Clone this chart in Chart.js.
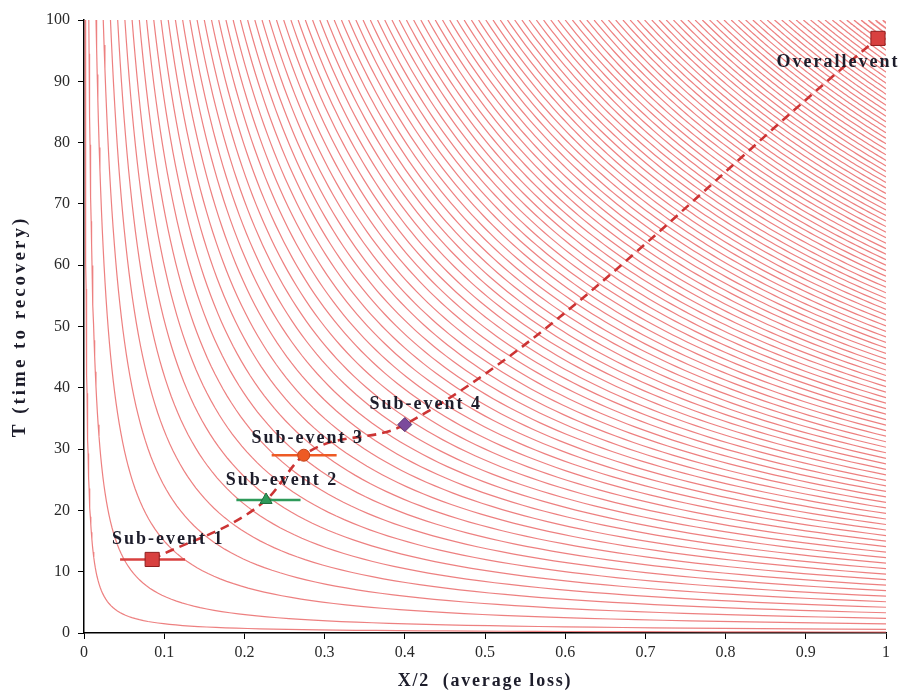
<!DOCTYPE html>
<html>
<head>
<meta charset="utf-8">
<script src="https://cdn.jsdelivr.net/npm/chart.js@4.4.1/dist/chart.umd.min.js"></script>
<style>
html, body { margin: 0; padding: 0; background: #fff; }
#wrap { width: 898px; height: 692px; }
</style>
</head>
<body>
<div id="wrap"><canvas id="chart"></canvas></div>
<script>
'use strict';

// iso-lines of (X/2)*T, each given by its value read at X/2 = 1
var isoLevels = [0.15, 0.6,
    1.5, 2.4, 3.3, 4.2, 5.1, 6.0, 6.9, 7.8, 8.7, 9.6,
    10.5, 11.4, 12.3, 13.2, 14.1, 15.0, 15.9, 16.8, 17.7, 18.6,
    19.5, 20.4, 21.3, 22.2, 23.1, 24.0, 24.9, 25.8, 26.7, 27.6,
    28.5, 29.4, 30.3, 31.2, 32.1, 33.0, 33.9, 34.8, 35.7, 36.6,
    37.5, 38.4, 39.3, 40.2, 41.1, 42.0, 42.9, 43.8, 44.7, 45.6,
    46.5, 47.4, 48.3, 49.2, 50.1, 51.0, 51.9, 52.8, 53.7, 54.6,
    55.5, 56.4, 57.3, 58.2, 59.1, 60.0, 60.9, 61.8, 62.7, 63.6,
    64.5, 65.4, 66.3, 67.2, 68.1, 69.0, 69.9, 70.8, 71.7, 72.6,
    73.5, 74.4, 75.3, 76.2, 77.1, 78.0, 78.9, 79.8, 80.7, 81.6,
    82.5, 83.4, 84.3, 85.2, 86.1, 87.0, 87.9, 88.8, 89.7, 90.6,
    91.5, 92.4, 93.3, 94.2, 95.1, 96.0, 96.9, 97.8, 98.7, 99.6];

var eventNames = ['Sub-event 1', 'Sub-event 2', 'Sub-event 3', 'Sub-event 4', 'Overallevent'];
var eventLoss = [0.085, 0.227, 0.274, 0.40, 0.99];
var eventTime = [12, 21.7, 29, 34, 97];
var lossLow = [0.045, 0.19, 0.234, null, null];
var lossHigh = [0.126, 0.27, 0.315, null, null];

var xTicks = [0, 0.1, 0.2, 0.3, 0.4, 0.5, 0.6, 0.7, 0.8, 0.9, 1];
var yTicks = [0, 10, 20, 30, 40, 50, 60, 70, 80, 90, 100];

var xTitle = 'X/2  (average loss)';
var yTitle = 'T (time to recovery)';

var eventColors = ['#d8403f', '#2e9a5a', '#ee5a24', '#7b4a9c', '#d8403f'];
var eventBorders = ['#8e1f1f', '#1f6e3e', '#c2431a', '#55306e', '#8e1f1f'];
var eventStyles = ['rect', 'triangle', 'circle', 'rectRot', 'rect'];
var eventRadius = [10, 7, 6, 7, 10];
var labelOffsets = [[16, -20], [16, -20], [4, -17], [21, -20], [-40, 24]];

var serif = '"Liberation Serif", "Times New Roman", serif';

var datasets = [];

// contour curves
isoLevels.forEach(function (k) {
    var pts = [];
    var x0 = k / 100;
    var n = 90;
    for (var i = 0; i <= n; i++) {
        var x = x0 * Math.pow(1 / x0, i / n);
        pts.push({x: x, y: k / x});
    }
    datasets.push({
        data: pts,
        borderColor: 'rgba(232, 96, 96, 0.8)',
        borderWidth: 1.2,
        pointRadius: 0,
        fill: false,
        order: 10
    });
});

// dashed path through the events
datasets.push({
    data: eventLoss.map(function (x, i) { return {x: x, y: eventTime[i]}; }),
    borderColor: '#cc3434',
    borderWidth: 2.6,
    borderDash: [9, 6],
    pointRadius: 0,
    cubicInterpolationMode: 'monotone',
    fill: false,
    order: 5
});

// horizontal error bars
eventLoss.forEach(function (x, i) {
    if (lossLow[i] === null) return;
    datasets.push({
        data: [{x: lossLow[i], y: eventTime[i]}, {x: lossHigh[i], y: eventTime[i]}],
        borderColor: eventColors[i],
        borderWidth: 2.6,
        pointRadius: 0,
        fill: false,
        order: 3
    });
});

// markers
eventLoss.forEach(function (x, i) {
    datasets.push({
        data: [{x: x, y: eventTime[i]}],
        showLine: false,
        pointStyle: eventStyles[i],
        pointRadius: eventRadius[i],
        pointBackgroundColor: eventColors[i],
        pointBorderColor: eventBorders[i],
        pointBorderWidth: 1,
        order: 1
    });
});

var eventLabels = {
    id: 'eventLabels',
    afterDatasetsDraw: function (chart) {
        var ctx = chart.ctx;
        var xs = chart.scales.x, ys = chart.scales.y;
        var area = chart.chartArea;
        ctx.save();
        ctx.font = 'bold 18px ' + serif;
        ctx.letterSpacing = '2px';
        ctx.fillStyle = '#1d1d2b';
        ctx.textAlign = 'center';
        ctx.textBaseline = 'middle';
        eventNames.forEach(function (name, i) {
            var px = xs.getPixelForValue(eventLoss[i]) + labelOffsets[i][0];
            var py = ys.getPixelForValue(eventTime[i]) + labelOffsets[i][1];
            ctx.fillText(name, px, py);
        });

        // axis titles
        ctx.letterSpacing = '1.8px';
        ctx.fillText(xTitle, (area.left + area.right) / 2, 681);
        ctx.translate(20, (area.top + area.bottom) / 2);
        ctx.rotate(-Math.PI / 2);
        ctx.font = 'bold 19px ' + serif;
        ctx.letterSpacing = '3px';
        ctx.fillText(yTitle, 0, 0);
        ctx.restore();
    }
};

new Chart(document.getElementById('chart').getContext('2d'), {
    type: 'line',
    data: {datasets: datasets},
    plugins: [eventLabels],
    options: {
        responsive: true,
        maintainAspectRatio: false,
        animation: false,
        layout: {padding: {top: 20, right: 12, left: 0, bottom: 0}},
        plugins: {legend: {display: false}, tooltip: {enabled: false}},
        elements: {line: {tension: 0}},
        scales: {
            x: {
                type: 'linear',
                min: 0,
                max: 1,
                afterBuildTicks: function (axis) {
                    axis.ticks = xTicks.map(function (v) { return {value: v}; });
                },
                afterFit: function (axis) { axis.height = 59; },
                ticks: {
                    color: '#2a2a2a',
                    font: {family: serif, size: 16},
                    padding: 4,
                    maxRotation: 0,
                    callback: function (v) { return String(v); }
                },
                grid: {drawOnChartArea: false, drawTicks: true, tickLength: 6, color: '#000'},
                border: {color: '#000', width: 1.5}
            },
            y: {
                type: 'linear',
                min: 0,
                max: 100,
                afterBuildTicks: function (axis) {
                    axis.ticks = yTicks.map(function (v) { return {value: v}; });
                },
                afterFit: function (axis) { axis.width = 84; },
                ticks: {
                    color: '#2a2a2a',
                    font: {family: serif, size: 16},
                    padding: 8
                },
                grid: {drawOnChartArea: false, drawTicks: true, tickLength: 6, color: '#000'},
                border: {color: '#000', width: 1.5}
            }
        }
    }
});
</script>
</body>
</html>
